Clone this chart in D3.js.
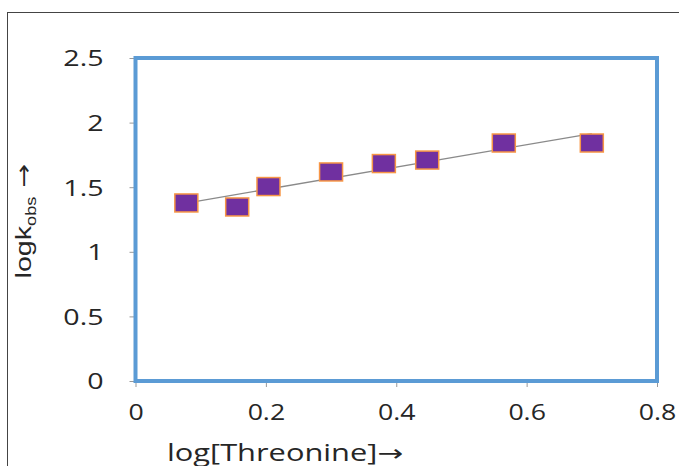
<!DOCTYPE html>
<html>
<head>
<meta charset="utf-8">
<script src="https://cdn.jsdelivr.net/npm/d3@7"></script>
<style>
body { margin: 0; background: #fff; }
text { font-family: "Open Sans", sans-serif; fill: #262626; }
</style>
</head>
<body>
<div id="chart"></div>
<script>
// values
var logThreonine = [0.078, 0.156, 0.204, 0.300, 0.381, 0.4475, 0.565, 0.700];
var logKobs = [1.378, 1.347, 1.505, 1.618, 1.683, 1.710, 1.842, 1.842];
var xTicks = [0, 0.2, 0.4, 0.6, 0.8];
var yTicks = [0, 0.5, 1, 1.5, 2, 2.5];

var w = 679, h = 466;
var pLeft = 135.5, pTop = 58, pRight = 657, pBottom = 381;

var svg = d3.select("#chart").append("svg")
  .attr("width", w).attr("height", h);

// outer frame, cut off at right and bottom
svg.append("rect")
  .attr("x", 7.5).attr("y", 12.5)
  .attr("width", w).attr("height", h)
  .attr("fill", "none").attr("stroke", "#444").attr("stroke-width", 1);

var x = d3.scaleLinear().domain([0, 0.8]).range([pLeft, pRight]);
var y = d3.scaleLinear().domain([0, 2.5]).range([pBottom, pTop]);

// y axis
var yAxis = svg.append("g")
  .attr("transform", "translate(" + pLeft + ",0)")
  .call(d3.axisLeft(y).tickValues(yTicks).tickSize(6)
    .tickFormat(function(d) { return d; }));
yAxis.select(".domain").remove();
yAxis.selectAll("line").attr("stroke", "#999");
yAxis.selectAll("text")
  .attr("x", 0).attr("dy", "0.36em")
  .attr("transform", "translate(-32,0) scale(1.3,1)")
  .style("font-size", "22px");

// x axis
var xAxis = svg.append("g")
  .attr("transform", "translate(0," + pBottom + ")")
  .call(d3.axisBottom(x).tickValues(xTicks).tickSize(6)
    .tickFormat(function(d) { return d; }));
xAxis.select(".domain").remove();
xAxis.selectAll("line").attr("stroke", "#999");
xAxis.selectAll("text")
  .attr("y", 39).attr("dy", 0)
  .attr("transform", "scale(1.27,1)")
  .style("font-size", "21px");

// blue plot-area border
svg.append("rect")
  .attr("x", pLeft).attr("y", pTop)
  .attr("width", pRight - pLeft).attr("height", pBottom - pTop)
  .attr("fill", "none").attr("stroke", "#5b9bd5").attr("stroke-width", 4);

// linear trend line
var mx = d3.mean(logThreonine), my = d3.mean(logKobs);
var sxy = d3.sum(logThreonine, function(v, i) { return (v - mx) * (logKobs[i] - my); });
var sxx = d3.sum(logThreonine, function(v) { return (v - mx) * (v - mx); });
var slope = sxy / sxx, icpt = my - slope * mx;
var xr = d3.extent(logThreonine);
svg.append("line")
  .attr("x1", x(xr[0])).attr("y1", y(icpt + slope * xr[0]))
  .attr("x2", x(xr[1])).attr("y2", y(icpt + slope * xr[1]))
  .attr("stroke", "#8a8a8a").attr("stroke-width", 1.3);

// square markers
svg.selectAll("rect.pt")
  .data(logThreonine)
  .enter()
  .append("rect")
  .attr("class", "pt")
  .attr("x", function(d) { return x(d) - 11.5; })
  .attr("y", function(d, i) { return y(logKobs[i]) - 9; })
  .attr("width", 23).attr("height", 18)
  .attr("fill", "#7030a0")
  .attr("stroke", "#f79646").attr("stroke-width", 1.5);

// axis titles
var xt = svg.append("text")
  .attr("transform", "translate(167,461) scale(1.34,1)")
  .style("font-size", "23px");
xt.append("tspan").text("log[Threonine]");
xt.append("tspan").style("font-family", "'DejaVu Sans', sans-serif").text("\u2192");

var yt = svg.append("text")
  .attr("transform", "translate(31,221) rotate(-90) scale(1.3,1)")
  .attr("text-anchor", "middle")
  .style("font-family", "'Liberation Sans', Arial, sans-serif")
  .style("font-size", "22px");
yt.append("tspan").text("logk");
yt.append("tspan").attr("dy", 5).style("font-size", "14px").text("obs");
yt.append("tspan").attr("dy", -5).style("font-family", "'DejaVu Sans', sans-serif").text(" \u2192");
</script>
</body>
</html>
